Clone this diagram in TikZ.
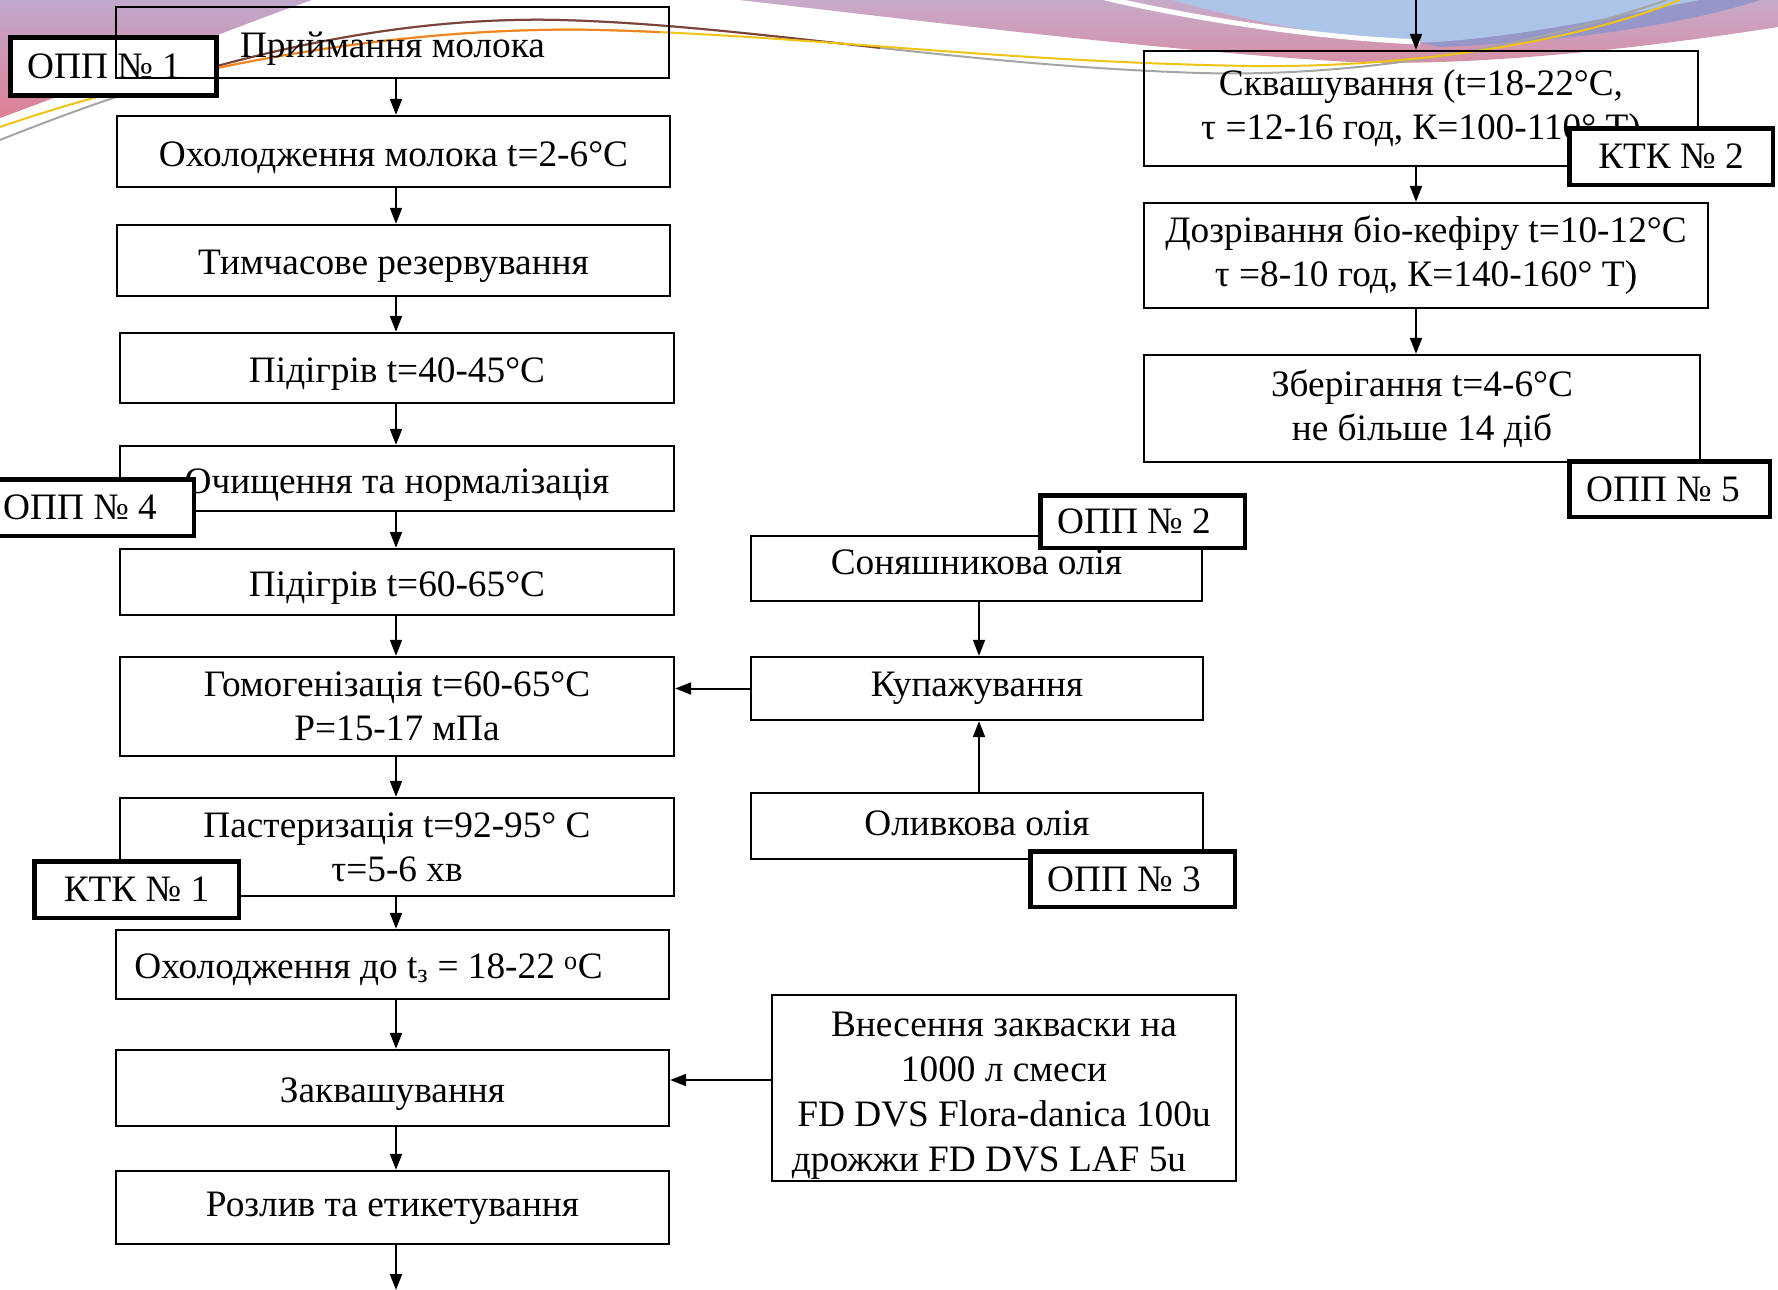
\documentclass[tikz,border=0pt]{standalone}
\usepackage{fontspec}
\setmainfont{Liberation Serif}
\usetikzlibrary{arrows.meta}
\definecolor{lav}{RGB}{192,168,204}
\definecolor{rosy}{RGB}{222,128,148}
\definecolor{mauve}{RGB}{200,170,202}
\definecolor{rose}{RGB}{214,142,166}
\definecolor{skyb}{RGB}{172,196,232}
\definecolor{violetb}{RGB}{150,150,200}
\definecolor{brownl}{RGB}{125,65,55}
\definecolor{grayl}{RGB}{165,165,165}
\definecolor{yell}{RGB}{240,195,20}
\definecolor{orangel}{RGB}{240,130,40}
\newcommand\lowr[2]{\raisebox{-#1pt}[\height][\depth]{#2}}
\tikzset{
  box/.style={draw, line width=2.3pt, inner sep=0pt, align=center, font=\fontsize{37.3}{44}\selectfont},
  tag/.style={draw, fill=white, line width=4.5pt, inner sep=0pt, font=\fontsize{37.3}{44}\selectfont},
  arr/.style={line width=2pt, -{Triangle[length=16pt,width=12pt]}},
}
\begin{document}
\begin{tikzpicture}[x=1pt,y=-1pt]
\useasboundingbox (0,0) rectangle (1778,1290);
\clip (0,0) rectangle (1778,1290);
\fill[white] (0,0) rectangle (1778,1290);
% decoration
\shade[top color=lav, bottom color=rosy] (0,0) -- (312,0) .. controls (240,25) and (130,70) .. (0,118) -- cycle;
\shade[top color=mauve, bottom color=rose] (739,0) .. controls (900,18) and (1150,50) .. (1350,62) .. controls (1450,66) and (1600,55) .. (1778,27) -- (1778,0) -- cycle;
\fill[skyb] (1172,0) .. controls (1250,22) and (1350,42) .. (1450,43) .. controls (1550,44) and (1650,20) .. (1738,0) -- cycle;
\draw[white, line width=5pt] (1105,-2) .. controls (1200,20) and (1320,38) .. (1420,42);
\fill[violetb] (1420,43) .. controls (1520,38) and (1620,15) .. (1700,0) -- (1760,0) .. controls (1700,20) and (1580,42) .. (1440,47) -- cycle;
\draw[grayl, line width=2pt] (0,140) .. controls (150,80) and (350,15) .. (560,20) .. controls (750,25) and (950,65) .. (1200,73) .. controls (1380,78) and (1550,40) .. (1667,0);
\begin{scope}
\clip (150,0) rectangle (880,120);
\draw[brownl, line width=2pt] (0,140) .. controls (150,80) and (350,15) .. (560,20) .. controls (750,25) and (950,65) .. (1200,73);
\end{scope}
\draw[yell, line width=2pt] (0,127) .. controls (150,75) and (380,25) .. (600,30) .. controls (800,35) and (1000,62) .. (1250,66) .. controls (1420,68) and (1580,40) .. (1680,0);
\begin{scope}
\clip (215,0) rectangle (660,120);
\draw[orangel, line width=2pt] (0,127) .. controls (150,75) and (380,25) .. (600,30) .. controls (800,35) and (1000,62) .. (1250,66);
\end{scope}
% left column
\node[tag, minimum width=206pt, minimum height=58pt] (opp1) at (113.5,66.5) {\hspace*{-19pt}ОПП № 1};
\node[box, minimum width=553pt, minimum height=71pt] (prij) at (392.5,42.5) {\lowr{6}{Приймання молока}};
\node[box, minimum width=553pt, minimum height=71pt] (ohol) at (393.5,151.5) {\lowr{6}{Охолодження молока t=2-6°C}};
\node[box, minimum width=553pt, minimum height=71pt] (tymch) at (393.5,260.5) {\lowr{6}{Тимчасове резервування}};
\node[box, minimum width=554pt, minimum height=70pt] (pid1) at (397,368) {\lowr{6}{Підігрів t=40-45°C}};
\node[box, minimum width=554pt, minimum height=65pt] (ochy) at (397,478.5) {\lowr{7}{Очищення та нормалізація}};
\node[box, minimum width=554pt, minimum height=66pt] (pid2) at (397,582) {\lowr{6}{Підігрів t=60-65°C}};
\node[box, minimum width=554pt, minimum height=99pt] (homog) at (397,706.5) {Гомогенізація t=60-65°C\\Р=15-17 мПа};
\node[box, minimum width=554pt, minimum height=98pt] (past) at (397,847) {Пастеризація t=92-95° C\\τ=5-6 хв};
\node[box, minimum width=553pt, minimum height=69pt] (ohol2) at (392.5,964.5) {\hspace*{-48pt}\lowr{5}{Охолодження до t\textsubscript{з} = 18-22 \textsuperscript{о}C}};
\node[box, minimum width=553pt, minimum height=76pt] (zakv) at (392.5,1088) {\lowr{6}{Заквашування}};
\node[box, minimum width=553pt, minimum height=73pt] (rozl) at (392.5,1207.5) {\lowr{1}{Розлив та етикетування}};
% right column
\node[box, minimum width=554pt, minimum height=115pt] (skv) at (1421,108.5) {Сквашування (t=18-22°C,\\τ =12-16 год, К=100-110° Т)};
\node[box, minimum width=564pt, minimum height=105pt] (dozr) at (1426,255.5) {Дозрівання біо-кефіру t=10-12°C\\τ =8-10 год, К=140-160° Т)};
\node[box, minimum width=556pt, minimum height=107pt] (zber) at (1422,408.5) {Зберігання t=4-6°C\\не більше 14 діб};
% middle column
\node[box, minimum width=451pt, minimum height=65pt] (sony) at (976.5,568.5) {\lowr{-6}{Соняшникова олія}};
\node[box, minimum width=452pt, minimum height=63pt] (kup) at (977,688.5) {Купажування};
\node[box, minimum width=452pt, minimum height=66pt] (olyv) at (977,826) {\lowr{-3}{Оливкова олія}};
\node[box, minimum width=464pt, minimum height=186pt, font=\fontsize{37.3}{45}\selectfont] (vnes) at (1004,1088) {\lowr{7}{\begin{tabular}{@{}c@{}}Внесення закваски на\\1000 л смеси\\FD DVS Flora-danica 100u\\\hspace*{-30pt}дрожжи FD DVS LAF 5u\end{tabular}}};
% tags
\node[tag, minimum width=202pt, minimum height=56.5pt] (opp4) at (93,507.5) {\hspace*{-26pt}ОПП № 4};
\node[tag, minimum width=204.5pt, minimum height=56.5pt] (ktk1) at (136.5,889.5) {КТК № 1};
\node[tag, minimum width=203.5pt, minimum height=56.5pt] (ktk2) at (1671,156.5) {КТК № 2};
\node[tag, minimum width=200.5pt, minimum height=55.5pt] (opp5) at (1669.5,489) {\hspace*{-13pt}ОПП № 5};
\node[tag, minimum width=204.5pt, minimum height=52.5pt] (opp2) at (1142.5,521.5) {\hspace*{-17pt}ОПП № 2};
\node[tag, minimum width=204.5pt, minimum height=55.5pt] (opp3) at (1132.5,879) {\hspace*{-17pt}ОПП № 3};
% connectors
\coordinate (ax) at (396,0);
\coordinate (endb) at (396,1290);
\coordinate (topin) at (1416,0);
\coordinate (mx) at (979,0);
\draw[arr] (ax |- prij.south) -- (ax |- ohol.north);
\draw[arr] (ax |- ohol.south) -- (ax |- tymch.north);
\draw[arr] (ax |- tymch.south) -- (ax |- pid1.north);
\draw[arr] (ax |- pid1.south) -- (ax |- ochy.north);
\draw[arr] (ax |- ochy.south) -- (ax |- pid2.north);
\draw[arr] (ax |- pid2.south) -- (ax |- homog.north);
\draw[arr] (ax |- homog.south) -- (ax |- past.north);
\draw[arr] (ax |- past.south) -- (ax |- ohol2.north);
\draw[arr] (ax |- ohol2.south) -- (ax |- zakv.north);
\draw[arr] (ax |- zakv.south) -- (ax |- rozl.north);
\draw[arr] (ax |- rozl.south) -- (endb);
\draw[arr] (topin) -- (topin |- skv.north);
\draw[arr] (topin |- skv.south) -- (topin |- dozr.north);
\draw[arr] (topin |- dozr.south) -- (topin |- zber.north);
\draw[arr] (mx |- sony.south) -- (mx |- kup.north);
\draw[arr] (mx |- olyv.north) -- (mx |- kup.south);
\draw[arr] (kup.west) -- (kup.west -| homog.east);
\draw[arr] ([yshift=8pt]vnes.west) -- ([yshift=8pt]vnes.west -| zakv.east);
\end{tikzpicture}
\end{document}
